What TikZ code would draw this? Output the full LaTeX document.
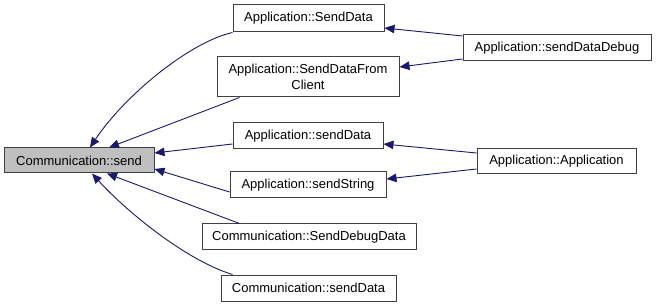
\documentclass[tikz,border=0pt]{standalone}
\usepackage{fontspec}
\setmainfont{Liberation Sans}
\usetikzlibrary{arrows.meta}
\definecolor{edgeblue}{HTML}{191970}
\definecolor{boxline}{HTML}{404040}
\definecolor{focusfill}{HTML}{BFBFBF}
\begin{document}
\begin{tikzpicture}[x=1pt,y=-1pt,
  fn/.style={draw=boxline,line width=1pt,fill=white,inner sep=0pt,
    font=\fontsize{13}{16}\selectfont,align=center},
  focus/.style={fn,fill=focusfill},
  call/.style={draw=edgeblue,line width=0.9pt,
    -{Triangle[length=10pt,width=8.5pt]},fill=none},
]
\useasboundingbox (0,0) rectangle (656,307);

% functions
\node[focus,minimum width=150pt,minimum height=25pt] (send) at (79,160.5) {Communication::send};
\node[fn,minimum width=151pt,minimum height=27pt] (appSendData) at (308.5,18.5) {Application::SendData};
\node[fn,minimum width=182pt,minimum height=40pt] (appFromClient) at (308,77) {Application::SendDataFrom\\Client};
\node[fn,minimum width=188pt,minimum height=26pt] (appDebug) at (557,48) {Application::sendDataDebug};
\node[fn,minimum width=150pt,minimum height=26pt] (appSendDataLc) at (308,136) {Application::sendData};
\node[fn,minimum width=156pt,minimum height=26pt] (appString) at (308,185) {Application::sendString};
\node[fn,minimum width=214pt,minimum height=26pt] (comDebug) at (309,237) {Communication::SendDebugData};
\node[fn,minimum width=175pt,minimum height=26pt] (comData) at (308.5,288) {Communication::sendData};
\node[fn,minimum width=159pt,minimum height=25pt] (appCtor) at (556.5,161.5) {Application::Application};

% calls into Communication::send
\draw[call] (appSendData.south west) .. controls (190,42) and (125,95) .. ([xshift=11pt]send.north);
\draw[call] ([xshift=23pt]appFromClient.south west) -- ([xshift=30pt]send.north);
\draw[call] ([yshift=-8pt]appSendDataLc.west) -- ([yshift=7.5pt]send.east);
\draw[call] ([yshift=-7pt]appString.west) -- ([yshift=-8.5pt]send.east);
\draw[call] ([xshift=38pt]comDebug.north west) -- ([xshift=28pt]send.south);
\draw[call] ([xshift=12pt]comData.north west) .. controls (185,260) and (125,210) .. ([xshift=13pt]send.south);

% callers of the Application functions
\draw[call] ([yshift=12pt]appDebug.west) -- ([yshift=-9.5pt]appSendData.east);
\draw[call] ([yshift=-11pt]appDebug.west) -- ([yshift=10pt]appFromClient.east);
\draw[call] ([yshift=8.5pt]appCtor.west) -- ([yshift=-8pt]appSendDataLc.east);
\draw[call] ([yshift=-7.5pt]appCtor.west) -- ([yshift=6pt]appString.east);
\end{tikzpicture}
\end{document}
